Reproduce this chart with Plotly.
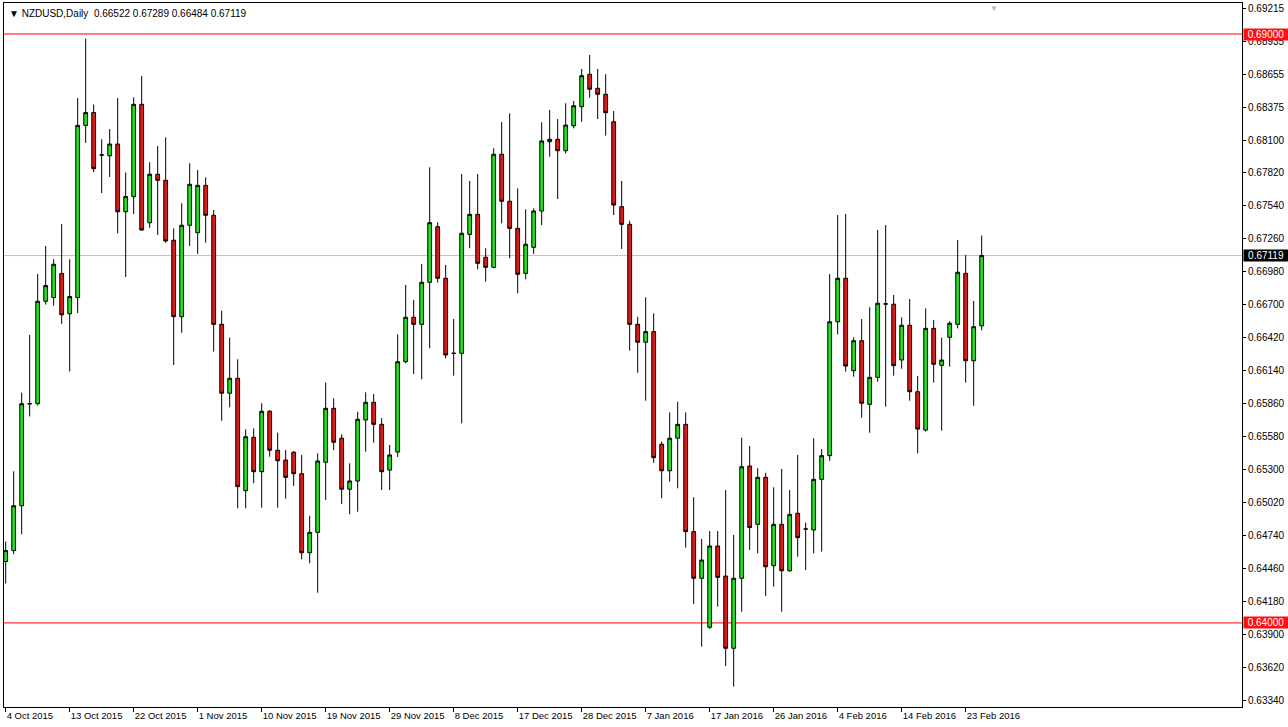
import pandas as pd
import plotly.graph_objects as go

# ---- bar dates (daily bars incl. Sunday, no Saturday, no Dec 25 / Jan 1) ----
_days = pd.date_range("2015-10-04", "2016-02-25", freq="D")
_skip = {pd.Timestamp("2015-12-25"), pd.Timestamp("2016-01-01")}
bar_dates = [d for d in _days if d.weekday() != 5 and d not in _skip]
categories = [d.strftime("%Y-%m-%d") for d in bar_dates]

open_ = [0.64521, 0.64614, 0.64995, 0.65861, 0.65861, 0.66731, 0.66762, 0.66967, 0.66625, 0.66762,
         0.68224, 0.68333, 0.67973, 0.67966, 0.68066, 0.67491, 0.67619, 0.68403, 0.67398, 0.67809,
         0.67758, 0.67249, 0.66600, 0.67376, 0.67313, 0.67715, 0.67461, 0.66535, 0.65950, 0.66077,
         0.65123, 0.65576, 0.65284, 0.65797, 0.65466, 0.65383, 0.65449, 0.65267, 0.64596, 0.64769,
         0.65364, 0.65822, 0.65568, 0.65135, 0.65205, 0.65723, 0.65873, 0.65686, 0.65298, 0.65451,
         0.66218, 0.66595, 0.66535, 0.66892, 0.67364, 0.66926, 0.66289, 0.66289, 0.67299, 0.67469,
         0.67104, 0.67019, 0.67979, 0.67580, 0.67350, 0.66968, 0.67189, 0.67497, 0.68086, 0.68106,
         0.68009, 0.68221, 0.68383, 0.68658, 0.68539, 0.68488, 0.68255, 0.67534, 0.67384, 0.66535,
         0.66383, 0.66473, 0.65517, 0.65292, 0.65568, 0.65686, 0.64775, 0.64379, 0.63963, 0.64653,
         0.64398, 0.63785, 0.64379, 0.65332, 0.64837, 0.65236, 0.64486, 0.64837, 0.64443, 0.64931,
         0.64797, 0.64789, 0.65219, 0.65420, 0.66557, 0.66926, 0.66141, 0.66396, 0.65856, 0.66085,
         0.66708, 0.66706, 0.66232, 0.66527, 0.65963, 0.65638, 0.66501, 0.66187, 0.66425, 0.66535,
         0.66968, 0.66226, 0.66522]
high = [0.64691, 0.65287, 0.65955, 0.66445, 0.66963, 0.67200, 0.67088, 0.67386, 0.67088, 0.68457,
        0.68960, 0.68401, 0.68106, 0.68193, 0.68457, 0.67824, 0.68463, 0.68643, 0.67911, 0.68049,
        0.68123, 0.67350, 0.67563, 0.67902, 0.67845, 0.67783, 0.67506, 0.66651, 0.66422, 0.66238,
        0.65644, 0.65652, 0.65865, 0.65808, 0.65615, 0.65468, 0.65460, 0.65426, 0.64910, 0.65440,
        0.66040, 0.65907, 0.65602, 0.65355, 0.65793, 0.65958, 0.65944, 0.65740, 0.65511, 0.66450,
        0.66869, 0.66742, 0.67047, 0.67868, 0.67401, 0.67039, 0.66580, 0.67811, 0.67752, 0.67811,
        0.67181, 0.68030, 0.68253, 0.68327, 0.67690, 0.67512, 0.67520, 0.68250, 0.68355, 0.68278,
        0.68412, 0.68431, 0.68703, 0.68822, 0.68703, 0.68658, 0.68346, 0.67752, 0.67415, 0.66600,
        0.66765, 0.66629, 0.65539, 0.65788, 0.65878, 0.65788, 0.65067, 0.64713, 0.64780, 0.64780,
        0.65129, 0.64747, 0.65573, 0.65502, 0.65313, 0.65275, 0.65151, 0.65307, 0.65129, 0.65426,
        0.64851, 0.65568, 0.65477, 0.66962, 0.67463, 0.67472, 0.66425, 0.66580, 0.66680, 0.67336,
        0.67378, 0.66784, 0.66595, 0.66750, 0.66096, 0.66671, 0.66572, 0.66422, 0.66563, 0.67251,
        0.67124, 0.66733, 0.67289]
low = [0.64335, 0.64583, 0.64753, 0.65753, 0.65846, 0.66703, 0.66693, 0.66539, 0.66135, 0.66631,
       0.68075, 0.67827, 0.67650, 0.67786, 0.67308, 0.66937, 0.67472, 0.67330, 0.67355, 0.67294,
       0.67228, 0.66190, 0.66464, 0.67200, 0.67132, 0.67228, 0.66303, 0.65717, 0.65831, 0.64973,
       0.64973, 0.65185, 0.64978, 0.65411, 0.64978, 0.65055, 0.65163, 0.64540, 0.64506, 0.64257,
       0.65044, 0.65468, 0.65010, 0.64922, 0.64944, 0.65454, 0.65530, 0.65129, 0.65129, 0.65409,
       0.66204, 0.66113, 0.66068, 0.66332, 0.66889, 0.66247, 0.66099, 0.65695, 0.67181, 0.67002,
       0.66897, 0.67011, 0.67393, 0.67096, 0.66799, 0.66917, 0.67132, 0.67378, 0.67958, 0.67599,
       0.67987, 0.68199, 0.68255, 0.68459, 0.68278, 0.68137, 0.67463, 0.67175, 0.66311, 0.66124,
       0.65887, 0.65360, 0.65058, 0.65199, 0.65143, 0.64639, 0.64161, 0.63798, 0.63949, 0.64138,
       0.63634, 0.63459, 0.64095, 0.64619, 0.64591, 0.64229, 0.64308, 0.64095, 0.64435, 0.64562,
       0.64449, 0.64591, 0.64605, 0.65377, 0.66450, 0.66133, 0.66091, 0.65742, 0.65615, 0.66048,
       0.65836, 0.66099, 0.66158, 0.65887, 0.65440, 0.65624, 0.66040, 0.65632, 0.66175, 0.66501,
       0.66040, 0.65844, 0.66484]
close = [0.64614, 0.64995, 0.65861, 0.65861, 0.66731, 0.66864, 0.67045, 0.66616, 0.66771, 0.68224,
         0.68333, 0.67857, 0.67973, 0.68066, 0.67491, 0.67620, 0.68403, 0.67336, 0.67809, 0.67758,
         0.67243, 0.66600, 0.67376, 0.67724, 0.67715, 0.67461, 0.66535, 0.65950, 0.66077, 0.65157,
         0.65581, 0.65284, 0.65797, 0.65466, 0.65377, 0.65236, 0.65267, 0.64596, 0.64769, 0.65375,
         0.65822, 0.65534, 0.65135, 0.65205, 0.65729, 0.65873, 0.65686, 0.65284, 0.65426, 0.66218,
         0.66595, 0.66535, 0.66892, 0.67398, 0.66926, 0.66275, 0.66289, 0.67308, 0.67469, 0.67053,
         0.67019, 0.67979, 0.67580, 0.67350, 0.66960, 0.67215, 0.67497, 0.68092, 0.68106, 0.68009,
         0.68227, 0.68391, 0.68646, 0.68531, 0.68488, 0.68332, 0.67548, 0.67384, 0.66535, 0.66383,
         0.66473, 0.65403, 0.65292, 0.65568, 0.65686, 0.64775, 0.64379, 0.64534, 0.64653, 0.64387,
         0.63785, 0.64379, 0.65326, 0.64810, 0.65236, 0.64477, 0.64837, 0.64443, 0.64922, 0.64724,
         0.64797, 0.65219, 0.65420, 0.66557, 0.66926, 0.66181, 0.66396, 0.65865, 0.66085, 0.66714,
         0.66708, 0.66184, 0.66527, 0.65963, 0.65646, 0.66501, 0.66196, 0.66232, 0.66544, 0.66977,
         0.66226, 0.66515, 0.67119]

price_ticks = [0.69215, 0.68935, 0.68655, 0.68375, 0.68100, 0.67820, 0.67540, 0.67260, 0.66980,
               0.66700, 0.66420, 0.66140, 0.65860, 0.65580, 0.65300, 0.65020, 0.64740, 0.64460,
               0.64180, 0.63900, 0.63620, 0.63340]
level_lines = [0.69000, 0.64000]
current_price = 0.67119
header_text = "NZDUSD,Daily  0.66522 0.67289 0.66484 0.67119"

n = min(len(categories), len(open_))
categories = categories[:n]
tick_idx = list(range(0, n, 8))
tick_vals = [categories[i] for i in tick_idx]
tick_text = [f"{bar_dates[i].day} {bar_dates[i].strftime('%b %Y')}" for i in tick_idx]

FONT = "Liberation Sans, Arial, sans-serif"
GREEN = "#22DD22"
RED = "#E01818"

fig = go.Figure()
fig.add_trace(go.Candlestick(
    x=categories, open=open_[:n], high=high[:n], low=low[:n], close=close[:n],
    increasing=dict(fillcolor=GREEN, line=dict(color="black", width=1)),
    decreasing=dict(fillcolor=RED, line=dict(color="black", width=1)),
    whiskerwidth=0, hoverinfo="skip", showlegend=False,
))

# horizontal level lines
for lv in level_lines:
    fig.add_shape(type="line", xref="paper", x0=0, x1=1, yref="y", y0=lv, y1=lv,
                  line=dict(color="#FF0000", width=1), layer="below")
fig.add_shape(type="line", xref="paper", x0=0, x1=1, yref="y", y0=current_price, y1=current_price,
              line=dict(color="#C0C0C0", width=1), layer="below")

# price boxes on the right axis
for lv, bg in [(level_lines[0], "#FF1010"), (current_price, "#000000"), (level_lines[1], "#FF1010")]:
    fig.add_annotation(xref="paper", x=1, xanchor="left", xshift=1, yref="y", y=lv, yanchor="middle",
                       text=f"{lv:.5f}", showarrow=False, bgcolor=bg, borderpad=0,
                       width=44, height=11, align="center",
                       font=dict(family=FONT, size=10, color="white"))

# header
fig.add_annotation(xref="paper", x=0, xanchor="left", xshift=3, yref="paper", y=1, yanchor="top", yshift=-3,
                   text="▼ " + header_text, showarrow=False,
                   font=dict(family=FONT, size=10, color="black"))
# small shift marker
fig.add_annotation(xref="paper", x=0.8, xanchor="center", yref="paper", y=1, yanchor="top", yshift=1,
                   text="▼", showarrow=False, font=dict(family=FONT, size=8, color="#B8B8B8"))

n_plot = 154.75
fig.update_layout(
    width=1288, height=727,
    margin=dict(l=4, r=46, t=3, b=20),
    paper_bgcolor="white", plot_bgcolor="white",
    font=dict(family=FONT, size=10, color="black"),
    showlegend=False, hovermode=False,
    boxgap=0.32,
    xaxis=dict(type="category", range=[-0.21, -0.21 + n_plot], rangeslider=dict(visible=False),
               showgrid=False, zeroline=False, showline=True, mirror=True,
               linecolor="black", linewidth=1, automargin=False,
               tickmode="array", tickvals=tick_vals, ticktext=tick_text, tickangle=0,
               ticks="outside", ticklen=4, tickcolor="black", tickwidth=1,
               ticklabelposition="outside right",
               tickfont=dict(family=FONT, size=9.5, color="black")),
    yaxis=dict(side="right", range=[0.632862, 0.692632], showgrid=False, zeroline=False,
               showline=True, mirror=True, linecolor="black", linewidth=1, automargin=False,
               tickmode="array", tickvals=price_ticks, ticktext=[f"{v:.5f}" for v in price_ticks],
               ticks="outside", ticklen=3, tickcolor="black", tickwidth=1,
               tickfont=dict(family=FONT, size=10, color="black")),
)

fig.write_html("out.html", config={"displayModeBar": False, "staticPlot": True})

# remove the default page margin so the figure sits at the window's top-left corner
with open("out.html", "r", encoding="utf-8") as f:
    html = f.read()
html = html.replace("<head>", "<head><style>html,body{margin:0;padding:0;overflow:hidden;}</style>", 1)
with open("out.html", "w", encoding="utf-8") as f:
    f.write(html)
